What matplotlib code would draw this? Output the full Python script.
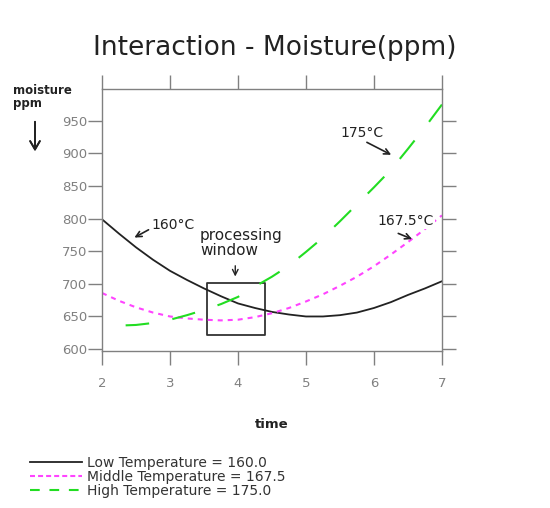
import numpy as np
import matplotlib
matplotlib.use("Agg")
import matplotlib.pyplot as plt
from matplotlib.lines import Line2D
from matplotlib.patches import Rectangle

plt.rcParams["font.family"] = ["DejaVu Sans"]
plt.rcParams["lines.scale_dashes"] = False

# data
time = [2.0, 2.25, 2.5, 2.75, 3.0, 3.25, 3.5, 3.75, 4.0, 4.25, 4.5,
        4.75, 5.0, 5.25, 5.5, 5.75, 6.0, 6.25, 6.5, 6.75, 7.0]
low_temp = [799, 777, 756, 737, 720, 706, 693, 681, 670, 663, 657,
            653, 650, 650, 652, 656, 663, 672, 683, 693, 704]
mid_temp = [686, 674, 664, 656, 650, 647, 645, 644, 645, 649, 655,
            663, 673, 684, 697, 711, 727, 745, 764, 784, 805]
high_temp = [636, 636, 637, 640, 645, 652, 660, 669, 680, 696, 711,
             728, 749, 771, 796, 822, 848, 875, 907, 940, 975]

x_ticks = [2, 3, 4, 5, 6, 7]
y_ticks = [600, 650, 700, 750, 800, 850, 900, 950]

legend_labels = ["Low Temperature = 160.0",
                 "Middle Temperature = 167.5",
                 "High Temperature = 175.0"]

BLACK = "#222222"
MAGENTA = "#ff44ff"
GREEN = "#22dd22"
GRAY = "#808080"

fig = plt.figure(figsize=(5.5, 5.08), dpi=100)
ax = fig.add_axes([0.1855, 0.309, 0.618, 0.516])

ax.plot(time, low_temp, color=BLACK, lw=1.3)
ax.plot(time, mid_temp, color=MAGENTA, lw=1.5, linestyle=(0, (3.6, 3.6)))
ax.plot(time, high_temp, color=GREEN, lw=1.5, linestyle=(17, (17, 17)))

ax.set_xlim(2, 7)
ax.set_ylim(597, 999)
ax.set_xticks(x_ticks)
ax.set_yticks(y_ticks)

for sp in ax.spines.values():
    sp.set_color(GRAY)
    sp.set_linewidth(1.0)
ax.tick_params(direction="out", length=10, width=1.0, color=GRAY,
               labelcolor=GRAY, labelsize=9.5, top=True, right=True)
ax.tick_params(axis="y", pad=0.5)
ax.tick_params(axis="x", pad=9)

# processing window
ax.add_patch(Rectangle((3.55, 622), 0.85, 80, fill=False,
                       edgecolor="#333333", lw=1.3, joinstyle="round"))
ax.text(3.44, 762, "processing\nwindow", ha="left", va="center",
        fontsize=11, color="#222222", linespacing=1.0)
ax.annotate("", xy=(3.96, 707), xytext=(3.96, 732),
            arrowprops=dict(arrowstyle="->", color=BLACK, lw=1.0))

# curve labels
ax.text(2.72, 791, "160°C", ha="left", va="center", fontsize=10, color="#222222")
ax.annotate("", xy=(2.44, 769), xytext=(2.72, 785),
            arrowprops=dict(arrowstyle="->", color=BLACK, lw=1.2))
ax.text(5.5, 932, "175°C", ha="left", va="center", fontsize=10, color="#222222")
ax.annotate("", xy=(6.29, 896), xytext=(5.86, 919),
            arrowprops=dict(arrowstyle="->", color=BLACK, lw=1.2))
ax.text(6.05, 797, "167.5°C", ha="left", va="center", fontsize=10, color="#222222",
        bbox=dict(facecolor="white", edgecolor="none", pad=1))
ax.annotate("", xy=(6.6, 767), xytext=(6.32, 779),
            arrowprops=dict(arrowstyle="->", color=BLACK, lw=1.2))

ax.set_xlabel("time", fontsize=9.5, fontweight="bold", color="#222222", labelpad=20)

fig.text(0.5, 1 - 48 / 508, "Interaction - Moisture(ppm)", ha="center", va="center",
         fontsize=19, color="#222222")
fig.text(13 / 550, 1 - 84 / 508, "moisture\nppm", ha="left", va="top",
         fontsize=8.5, fontweight="bold", color="#222222", linespacing=1.05)
fig.add_artist(plt.annotate("", xy=(35 / 550, 1 - 154 / 508),
                            xytext=(35 / 550, 1 - 119 / 508),
                            xycoords="figure fraction", textcoords="figure fraction",
                            arrowprops=dict(arrowstyle="->,head_length=0.6,head_width=0.35",
                                            color=BLACK, lw=1.3)))

handles = [Line2D([], [], color=BLACK, lw=1.3),
           Line2D([], [], color=MAGENTA, lw=1.5, linestyle=(0, (3.6, 2.2))),
           Line2D([], [], color=GREEN, lw=1.5, linestyle=(0, (7, 7)))]
leg = fig.legend(handles, legend_labels, loc="upper left",
                 bbox_to_anchor=(30 / 550, 1 - 456 / 508), frameon=False,
                 fontsize=10, handlelength=3.75, handletextpad=0.35,
                 labelspacing=0.0, borderpad=0, borderaxespad=0)
for t in leg.get_texts():
    t.set_color("#333333")

fig.savefig("out.png", dpi=100)
